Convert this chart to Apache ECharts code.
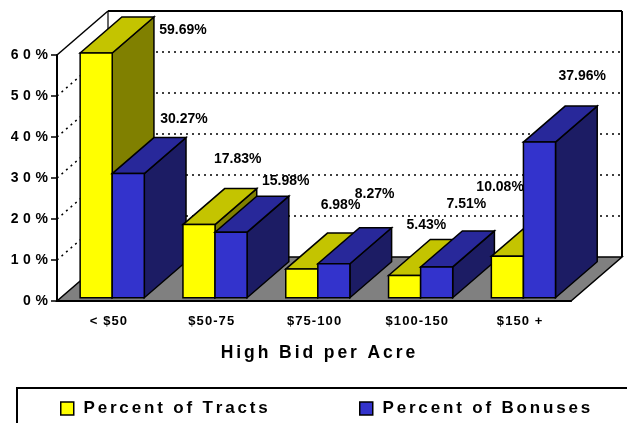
<!DOCTYPE html>
<html><head><meta charset="utf-8">
<script src="https://cdn.jsdelivr.net/npm/echarts@6/dist/echarts.min.js"></script>
<style>html,body{margin:0;padding:0;background:#fff}#c{width:627px;height:423px}</style>
</head><body><div id="c"></div>
<script>
// ---- data ----
const categories = ['< $50', '$50-75', '$75-100', '$100-150', '$150 +'];
const tracts = [59.69, 17.83, 6.98, 5.43, 10.08];
const bonuses = [30.27, 15.98, 8.27, 7.51, 37.96];
const yTicks = [0, 10, 20, 30, 40, 50, 60];
const seriesNames = ['Percent of Tracts', 'Percent of Bonuses'];
const axisTitle = 'High Bid per Acre';
// label nudges (px) relative to the top-back centre of each bar
const tractLabelNudge = [[45, 13], [-3, -29], [-3, -28], [-20, -14], [-49, -33]];
const bonusLabelNudge = [[14, -18], [13, -15], [-1, -34], [-12, -27], [1, -30]];

// ---- style ----
const FONT = '"Liberation Sans", Arial, sans-serif';
const DEPTH_X = 51, DEPTH_Y = -44;
const BAR_D0 = 0.075, BAR_D1 = 0.893;
const BAR_W = 0.312;
const COLORS = [
  {front: '#FFFF00', top: '#C4C400', side: '#808000'},
  {front: '#3333CC', top: '#28289A', side: '#1C1C64'}
];
const spaced = (s, sep) => s.split('').join(sep);

function barRenderer(sIdx, nudges) {
  const col = COLORS[sIdx];
  return function (params, api) {
    const i = api.value(0), v = api.value(1);
    const base = api.coord([i, 0]);
    const top = api.coord([i, v]);
    const band = api.size([1, 0])[0];
    const w = band * BAR_W;
    const x0 = base[0] - w + sIdx * w;
    const ax = DEPTH_X * BAR_D0, ay = DEPTH_Y * BAR_D0;
    const bx = DEPTH_X * (BAR_D1 - BAR_D0), by = DEPTH_Y * (BAR_D1 - BAR_D0);
    const fx0 = x0 + ax, fx1 = x0 + w + ax, fyb = base[1] + ay, fyt = top[1] + ay;
    const ls = {stroke: '#000', lineWidth: 1.5, lineJoin: 'miter'};
    const zb = i * 10 + sIdx * 4;
    const nd = nudges[i];
    return {
      type: 'group',
      children: [
        {type: 'polygon', z2: zb, shape: {points: [[fx1, fyb], [fx1, fyt], [fx1 + bx, fyt + by], [fx1 + bx, fyb + by]]},
          style: Object.assign({fill: col.side}, ls)},
        {type: 'polygon', z2: zb + 1, shape: {points: [[fx0, fyt], [fx1, fyt], [fx1 + bx, fyt + by], [fx0 + bx, fyt + by]]},
          style: Object.assign({fill: col.top}, ls)},
        {type: 'rect', z2: zb + 2, shape: {x: fx0, y: fyt, width: fx1 - fx0, height: fyb - fyt},
          style: Object.assign({fill: col.front}, ls)},
        {type: 'text', z2: 1000, x: fx0 + w / 2 + bx + nd[0], y: fyt + by + nd[1],
          style: {text: v.toFixed(2) + '%', fill: '#000', font: 'bold 14px ' + FONT, align: 'center', verticalAlign: 'middle'}}
      ]
    };
  };
}

function wallRenderer(params, api) {
  const cs = params.coordSys;
  const L = cs.x, R = cs.x + cs.width;
  const yb = api.coord([0, yTicks[0]])[1];
  const yt = api.coord([0, yTicks[yTicks.length - 1]])[1];
  const dx = DEPTH_X, dy = DEPTH_Y;
  const ch = [];
  ch.push({type: 'polygon', shape: {points: [[L + dx, yt + dy], [R + dx, yt + dy], [R + dx, yb + dy], [L + dx, yb + dy]]}, style: {fill: '#fff'}});
  ch.push({type: 'polygon', shape: {points: [[L, yt], [L + dx, yt + dy], [L + dx, yb + dy], [L, yb]]}, style: {fill: '#fff'}});
  const dash = {stroke: '#000', lineWidth: 1.5, lineDash: [2, 4]};
  yTicks.slice(1, -1).forEach(t => {
    const y = api.coord([0, t])[1];
    ch.push({type: 'line', shape: {x1: L + dx, y1: y + dy, x2: R + dx, y2: y + dy}, style: dash});
    ch.push({type: 'line', shape: {x1: L, y1: y, x2: L + dx, y2: y + dy}, style: dash});
  });
  ch.push({type: 'polygon', shape: {points: [[L, yb], [R, yb], [R + dx, yb + dy], [L + dx, yb + dy]]},
    style: {fill: '#808080', stroke: '#000', lineWidth: 1.5}});
  const solid = {stroke: '#000', lineWidth: 2};
  ch.push({type: 'line', shape: {x1: L + dx, y1: yt + dy, x2: R + dx, y2: yt + dy}, style: solid});
  ch.push({type: 'line', shape: {x1: R + dx, y1: yt + dy, x2: R + dx, y2: yb + dy}, style: solid});
  ch.push({type: 'line', shape: {x1: L, y1: yt, x2: L + dx, y2: yt + dy}, style: {stroke: '#000', lineWidth: 1.5}});
  ch.push({type: 'line', shape: {x1: L + dx, y1: yt + dy, x2: L + dx, y2: yb + dy}, style: {stroke: '#000', lineWidth: 1.2}});
  return {type: 'group', children: ch};
}

const chart = echarts.init(document.getElementById('c'), null, {renderer: 'canvas'});
const legendText = {fontFamily: FONT, fontWeight: 'bold', fontSize: 17, color: '#000'};
chart.setOption({
  animation: false,
  backgroundColor: '#fff',
  grid: {left: 57, right: 56, top: 55, bottom: 122},
  xAxis: {
    type: 'category', data: categories, z: 5,
    axisLine: {lineStyle: {color: '#000', width: 2}},
    axisTick: {length: 5, lineStyle: {color: '#000', width: 1.5}},
    axisLabel: {margin: 14, fontFamily: FONT, fontWeight: 'bold', fontSize: 13, color: '#000',
      formatter: v => spaced(v, '\u200A')},
    name: spaced(axisTitle, '\u2006'), nameLocation: 'middle', nameGap: 43,
    nameTextStyle: {fontFamily: FONT, fontWeight: 'bold', fontSize: 17.5, color: '#000', padding: [0, 0, 0, 8]}
  },
  yAxis: {
    type: 'value', min: 0, max: 60, interval: 10, z: 5,
    axisLine: {show: true, lineStyle: {color: '#000', width: 2}},
    axisTick: {show: true, length: 6, lineStyle: {color: '#000', width: 1.5}},
    splitLine: {show: false},
    axisLabel: {margin: 9, fontFamily: FONT, fontWeight: 'bold', fontSize: 14, color: '#000',
      formatter: v => spaced(String(v), '\u2004') + '\u2004%'}
  },
  legend: [
    {left: 60, top: 400, padding: 0, itemWidth: 13, itemHeight: 13, icon: 'rect',
      data: [{name: seriesNames[0], itemStyle: {color: COLORS[0].front, borderColor: '#000', borderWidth: 1.5}}],
      formatter: n => ' ' + spaced(n, '\u2006'), textStyle: legendText},
    {left: 359, top: 400, padding: 0, itemWidth: 13, itemHeight: 13, icon: 'rect',
      data: [{name: seriesNames[1], itemStyle: {color: COLORS[1].front, borderColor: '#000', borderWidth: 1.5}}],
      formatter: n => ' ' + spaced(n, '\u2006'), textStyle: legendText}
  ],
  graphic: [{type: 'rect', z: -1, shape: {x: 17, y: 388, width: 700, height: 80},
    style: {fill: '#fff', stroke: '#000', lineWidth: 2}}],
  series: [
    {type: 'custom', name: 'walls', z: 1, silent: true, coordinateSystem: 'cartesian2d',
      renderItem: wallRenderer, data: [[0, 0]]},
    {type: 'custom', name: seriesNames[0], z: 2, coordinateSystem: 'cartesian2d',
      itemStyle: {color: COLORS[0].front},
      renderItem: barRenderer(0, tractLabelNudge), encode: {x: 0, y: 1},
      data: tracts.map((v, i) => [i, v])},
    {type: 'custom', name: seriesNames[1], z: 2, coordinateSystem: 'cartesian2d',
      itemStyle: {color: COLORS[1].front},
      renderItem: barRenderer(1, bonusLabelNudge), encode: {x: 0, y: 1},
      data: bonuses.map((v, i) => [i, v])}
  ]
});
</script>
</body></html>
